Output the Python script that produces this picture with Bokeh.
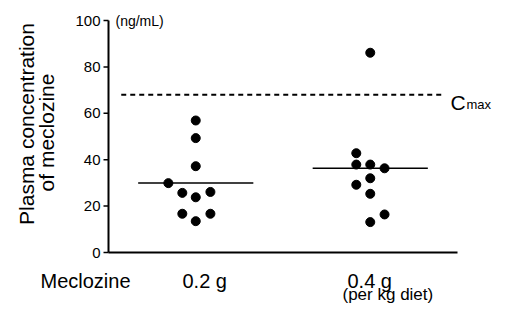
from math import pi
from bokeh.plotting import figure
from bokeh.models import Range1d
from bokeh.core.properties import value
from bokeh.embed import file_html
from bokeh.resources import INLINE

# ---- data ----
groups = ["0.2 g", "0.4 g"]
centers = [0.5, 1.5]
g1_values = [56.9, 49.3, 37.2, 29.9, 25.7, 23.8, 26.1, 16.7, 16.7, 13.5]
g1_jitter = [0, 0, 0, -0.157, -0.077, 0, 0.084, -0.077, 0.084, 0]
g2_values = [86.1, 42.8, 37.9, 37.9, 36.3, 32.0, 29.2, 25.3, 16.4, 13.1]
g2_jitter = [0, -0.08, -0.08, 0, 0.082, 0, -0.08, 0, 0.082, 0]
medians = [30.0, 36.3]
cmax = 68.0
y_ticks = [0, 20, 40, 60, 80, 100]
y_tick_labels = [str(t) for t in y_ticks]

FONT = value("Liberation Sans")
PXX = 174.5   # px per x unit
PXY = 2.32    # px per y unit
X0, Y0 = 108, 252  # canvas position of the origin

W, H = 494, 304
p = figure(width=W, height=H, output_backend="svg", toolbar_location=None,
           x_range=Range1d(-X0 / PXX, (W - X0) / PXX),
           y_range=Range1d((Y0 - H) / PXY, Y0 / PXY),
           min_border=0)
p.outline_line_color = None
p.grid.visible = False
p.axis.visible = False
p.background_fill_color = "white"

def dx(px):
    return px / PXX

def dy(px):
    return px / PXY

# axis lines
p.line([0, 0], [0, 100], line_color="black", line_width=2)
p.line([0, 2], [0, 0], line_color="black", line_width=2)
# y ticks
p.segment(x0=[dx(-5)] * len(y_ticks), y0=y_ticks, x1=[0] * len(y_ticks), y1=y_ticks,
          line_color="black", line_width=1.5)
p.text(x=[dx(-8)] * len(y_ticks), y=y_ticks, text=y_tick_labels, text_font=FONT,
       text_font_size="15px", text_align="right", text_baseline="middle", text_color="black")

# Cmax dashed line
p.line([0.073, 1.912], [cmax, cmax], line_color="black", line_width=2, line_dash="5 4")

# median lines
for c, m in zip(centers, medians):
    p.line([c - 0.33, c + 0.33], [m, m], line_color="black", line_width=1.5)

# points
p.scatter([centers[0] + j for j in g1_jitter], g1_values, size=9, color="black")
p.scatter([centers[1] + j for j in g2_jitter], g2_values, size=9, color="black")

def lab(x, y, text, size, align="left", baseline="alphabetic", angle=0):
    p.text(x=[x], y=[y], text=[text], text_font=FONT, text_font_size=size,
           text_align=align, text_baseline=baseline, angle=angle, text_color="black")

# category labels
row = dy(-28)
lab(dx(40 - X0), row, "Meclozine", "20px")
lab(dx(182 - X0), row, groups[0], "20px")
lab(dx(347 - X0), row, groups[1], "20px")
lab(dx(342 - X0), dy(-42), "(per kg diet)", "17px")

# units
lab(dx(115 - X0), 100.0, "(ng/mL)", "14px")

# Cmax
lab(dx(450 - X0), cmax - dy(7.5), "C", "21px")
lab(dx(466 - X0), cmax - dy(9.5), "max", "13px")

# y-axis title
lab(dx(25.5 - X0), dy(Y0 - 123.5), "Plasma concentration", "21px", align="center",
    baseline="middle", angle=pi / 2)
lab(dx(46 - X0), dy(Y0 - 132), "of meclozine", "21px", align="center",
    baseline="middle", angle=pi / 2)

open("out.html", "w").write(file_html(p, INLINE))
